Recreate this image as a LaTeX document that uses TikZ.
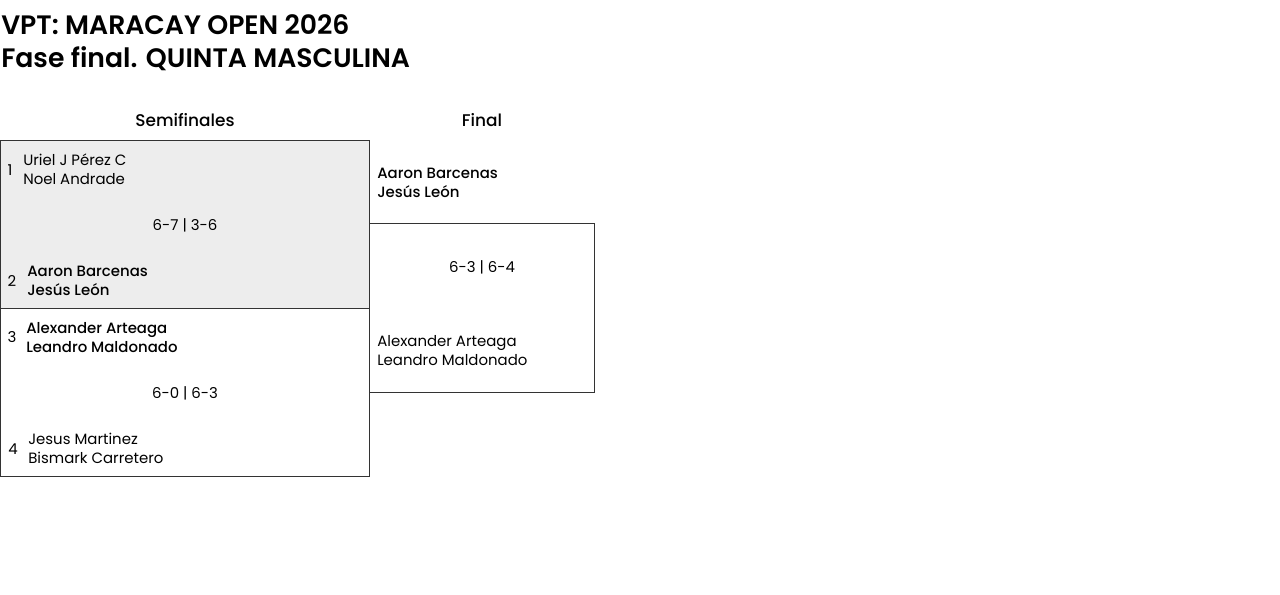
\documentclass[tikz,border=0pt]{standalone}
\usepackage{fontspec}
\setmainfont{Poppins}[BoldFont={Poppins Medium}]
\newfontfamily\titlefont{Poppins}[BoldFont={Poppins SemiBold}]
\usetikzlibrary{positioning}

\tikzset{
  names/.style={anchor=west, align=left, inner sep=0pt, font=\fontsize{11.2pt}{14.25pt}\selectfont},
  winner/.style={names, font=\fontsize{11.2pt}{14.25pt}\selectfont\bfseries},
  seed/.style={inner sep=0pt, font=\fontsize{11.2pt}{14.25pt}\selectfont},
  score/.style={inner sep=0pt, font=\fontsize{11.2pt}{14.25pt}\selectfont},
  round/.style={inner sep=0pt, font=\fontsize{12.7pt}{15pt}\selectfont\bfseries},
  heading/.style={anchor=base west, inner sep=0pt, font=\fontsize{20pt}{24pt}\titlefont\bfseries},
  matchbox/.style={draw=black!80, line width=0.75pt}
}

\begin{document}
\begin{tikzpicture}[x=0.75pt, y=-0.75pt]

% Page frame
\useasboundingbox (0,0) rectangle (1280,595);

% Title
\node[heading] (title1) at (1,35) {VPT: MARACAY OPEN 2026};
\node[heading] (title2) at (1,68) {Fase final. QUINTA MASCULINA};

% Round headers
\node[round] (semi) at (185,120) {Semifinales};
\node[round] (final) at (482,120) {Final};

% Match boxes
\draw[matchbox, fill=black!7] (0,141) rectangle (369,308);
\draw[matchbox] (0,308) rectangle (369,476);
\draw[matchbox] (369,224) rectangle (594,392);

% Semifinal 1
\node[seed] (s1) at (10,170) {1};
\node[names] (p1) at (23,169.5) {Uriel J Pérez C\\Noel Andrade};
\node[score] (m1) at (185,225) {6-7 | 3-6};
\node[seed] (s2) at (12,281) {2};
\node[winner] (p2) at (27,280.5) {Aaron Barcenas\\Jesús León};

% Semifinal 2
\node[seed] (s3) at (12,337) {3};
\node[winner] (p3) at (26,337.5) {Alexander Arteaga\\Leandro Maldonado};
\node[score] (m2) at (185,393) {6-0 | 6-3};
\node[seed] (s4) at (13,449) {4};
\node[names] (p4) at (28,448.5) {Jesus Martinez\\Bismark Carretero};

% Final
\node[winner] (f1) at (377,182.5) {Aaron Barcenas\\Jesús León};
\node[score] (m3) at (482,267) {6-3 | 6-4};
\node[names] (f2) at (377,350.5) {Alexander Arteaga\\Leandro Maldonado};

\end{tikzpicture}
\end{document}
